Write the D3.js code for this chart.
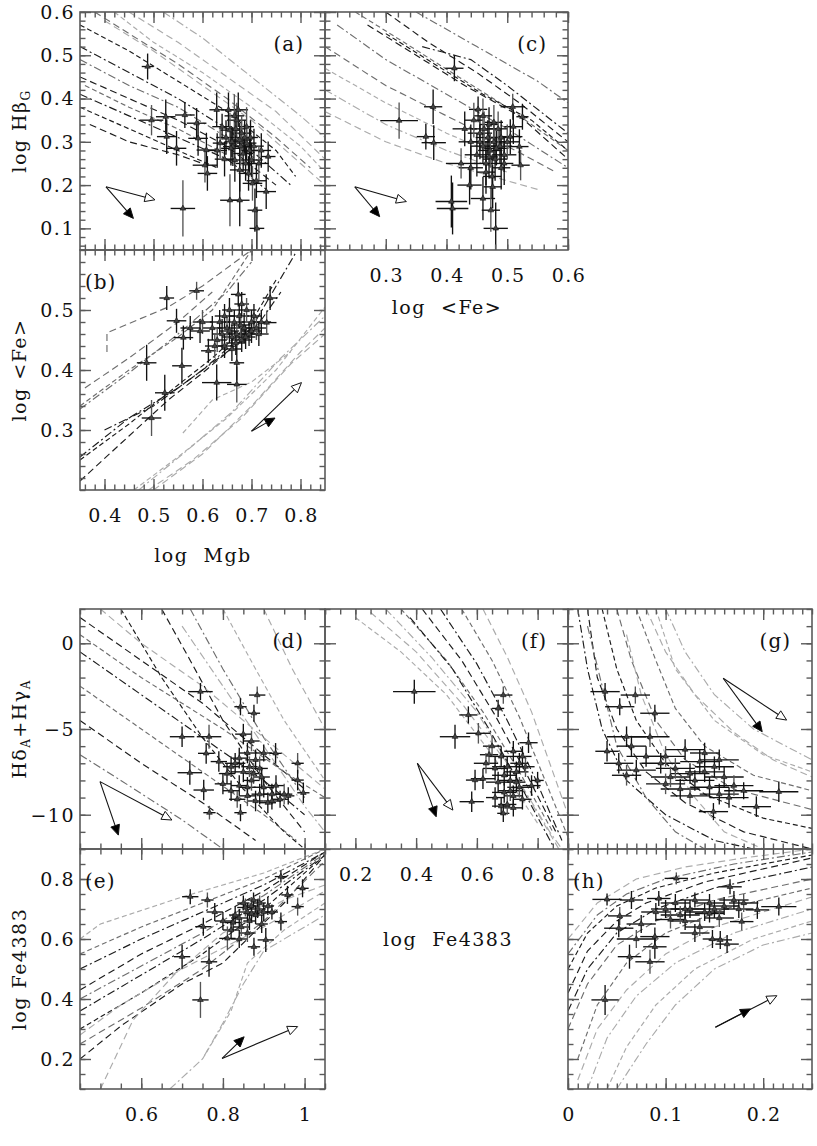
<!DOCTYPE html>
<html><head><meta charset="utf-8">
<script src="https://cdn.jsdelivr.net/npm/d3@7"></script>
<style>
body{margin:0;background:#fff}
text{font-family:"DejaVu Serif","Liberation Serif",serif;fill:#111}
</style>
</head><body>
<svg id="fig" width="817" height="1146"></svg>
<script>
// ---------------- tick values ----------------
const ticksMgb = [0.4,0.5,0.6,0.7,0.8];
const ticksFe = [0.2,0.3,0.4,0.5,0.6];
const labelsFe = [0.3,0.4,0.5,0.6];
const ticksHb = [0.1,0.2,0.3,0.4,0.5,0.6];
const ticksFeB = [0.3,0.4,0.5];
const ticksHdg = [-10,-5,0];
const ticksXd = [0.6,0.8,1.0];
const ticksFe4383 = [0.2,0.4,0.6,0.8];
const ticksXg = [0,0.1,0.2];

// ---------------- galaxies [x, y, ex, ey] ----------------
const ptsA = [[0.488,0.474,0.012,0.03],[0.496,0.350,0.024,0.035],[0.525,0.358,0.02,0.04],[0.527,0.312,0.02,0.04],[0.547,0.285,0.02,0.04],[0.560,0.146,0.025,0.065],[0.564,0.362,0.02,0.03],[0.588,0.343,0.02,0.035],[0.591,0.308,0.02,0.04],[0.605,0.246,0.025,0.04],[0.608,0.281,0.02,0.04],[0.610,0.227,0.02,0.04],[0.629,0.374,0.015,0.04],[0.636,0.297,0.015,0.035],[0.640,0.335,0.02,0.03],[0.645,0.26,0.02,0.04],[0.653,0.374,0.015,0.04],[0.656,0.327,0.02,0.04],[0.660,0.30,0.015,0.035],[0.662,0.289,0.02,0.045],[0.666,0.258,0.015,0.05],[0.670,0.35,0.02,0.04],[0.673,0.374,0.02,0.04],[0.676,0.304,0.025,0.04],[0.676,0.235,0.02,0.05],[0.680,0.32,0.02,0.04],[0.683,0.273,0.02,0.04],[0.686,0.31,0.02,0.04],[0.690,0.297,0.02,0.04],[0.690,0.335,0.015,0.045],[0.694,0.227,0.02,0.04],[0.696,0.28,0.02,0.05],[0.700,0.258,0.02,0.04],[0.702,0.204,0.02,0.04],[0.707,0.142,0.015,0.05],[0.711,0.100,0.015,0.05],[0.676,0.165,0.02,0.06],[0.656,0.165,0.02,0.06],[0.734,0.266,0.015,0.035],[0.730,0.185,0.02,0.04],[0.71,0.21,0.02,0.04],[0.665,0.36,0.02,0.05],[0.648,0.31,0.02,0.04],[0.658,0.285,0.02,0.04],[0.668,0.33,0.02,0.04],[0.678,0.29,0.02,0.045],[0.688,0.25,0.02,0.04],[0.698,0.31,0.015,0.04],[0.705,0.29,0.02,0.04],[0.715,0.25,0.02,0.04],[0.72,0.28,0.02,0.04],[0.63,0.28,0.02,0.04]];
const ptsC = [[0.413,0.470,0.015,0.03],[0.322,0.349,0.031,0.042],[0.378,0.381,0.015,0.04],[0.366,0.312,0.015,0.03],[0.379,0.298,0.02,0.04],[0.424,0.250,0.025,0.035],[0.438,0.200,0.02,0.045],[0.408,0.162,0.026,0.06],[0.410,0.146,0.026,0.06],[0.473,0.142,0.015,0.05],[0.481,0.100,0.02,0.06],[0.460,0.169,0.02,0.05],[0.476,0.196,0.015,0.05],[0.509,0.381,0.02,0.03],[0.525,0.358,0.01,0.03],[0.505,0.312,0.02,0.04],[0.520,0.289,0.015,0.04],[0.522,0.246,0.015,0.035],[0.510,0.335,0.015,0.04],[0.43,0.33,0.02,0.04],[0.44,0.30,0.02,0.04],[0.445,0.35,0.015,0.04],[0.45,0.27,0.02,0.05],[0.455,0.32,0.02,0.04],[0.46,0.29,0.02,0.04],[0.46,0.36,0.015,0.04],[0.465,0.25,0.02,0.05],[0.468,0.31,0.02,0.04],[0.47,0.34,0.015,0.04],[0.472,0.28,0.02,0.04],[0.475,0.22,0.015,0.05],[0.478,0.30,0.02,0.04],[0.48,0.26,0.02,0.05],[0.485,0.33,0.015,0.04],[0.488,0.29,0.02,0.04],[0.49,0.24,0.015,0.05],[0.495,0.27,0.02,0.04],[0.50,0.30,0.02,0.04],[0.44,0.24,0.02,0.05],[0.452,0.375,0.015,0.03],[0.455,0.30,0.02,0.04],[0.462,0.33,0.02,0.04],[0.47,0.265,0.015,0.05],[0.482,0.285,0.02,0.04],[0.49,0.31,0.02,0.04],[0.478,0.345,0.015,0.04],[0.495,0.25,0.015,0.05],[0.465,0.23,0.015,0.05]];
const ptsB = [[0.527,0.520,0.015,0.02],[0.588,0.532,0.015,0.015],[0.547,0.482,0.02,0.02],[0.561,0.454,0.02,0.02],[0.486,0.412,0.02,0.03],[0.496,0.320,0.02,0.03],[0.523,0.362,0.02,0.03],[0.558,0.407,0.02,0.03],[0.629,0.379,0.03,0.03],[0.670,0.376,0.02,0.03],[0.670,0.412,0.015,0.03],[0.673,0.526,0.015,0.02],[0.738,0.520,0.015,0.02],[0.731,0.479,0.02,0.02],[0.595,0.465,0.02,0.02],[0.612,0.432,0.015,0.02],[0.62,0.47,0.02,0.02],[0.63,0.45,0.02,0.02],[0.635,0.48,0.02,0.02],[0.64,0.46,0.02,0.025],[0.645,0.44,0.02,0.02],[0.65,0.47,0.02,0.02],[0.655,0.50,0.015,0.02],[0.66,0.455,0.02,0.02],[0.665,0.48,0.02,0.02],[0.67,0.46,0.02,0.02],[0.675,0.49,0.02,0.02],[0.68,0.45,0.02,0.02],[0.685,0.47,0.015,0.025],[0.69,0.50,0.02,0.02],[0.695,0.46,0.02,0.02],[0.70,0.48,0.02,0.02],[0.705,0.49,0.015,0.02],[0.71,0.47,0.02,0.02],[0.715,0.46,0.02,0.02],[0.66,0.435,0.02,0.02],[0.575,0.47,0.02,0.02],[0.60,0.48,0.02,0.02],[0.645,0.49,0.02,0.02],[0.655,0.465,0.02,0.02],[0.668,0.445,0.02,0.02],[0.678,0.475,0.02,0.02],[0.688,0.455,0.02,0.02],[0.70,0.465,0.02,0.02],[0.72,0.48,0.02,0.02],[0.625,0.44,0.02,0.02],[0.68,0.51,0.015,0.02]];
const ptsD = [[0.745,-2.82,0.03,0.5],[0.884,-3.02,0.02,0.5],[0.843,-3.70,0.015,0.5],[0.876,-4.08,0.015,0.5],[0.700,-5.45,0.03,0.6],[0.766,-5.45,0.03,0.7],[0.759,-6.42,0.02,0.6],[0.719,-7.55,0.03,0.7],[0.753,-8.56,0.025,0.6],[0.767,-9.88,0.015,0.4],[0.843,-9.88,0.015,0.5],[0.790,-6.90,0.02,0.6],[0.929,-6.42,0.015,0.6],[0.983,-7.00,0.015,0.6],[0.983,-7.98,0.015,0.6],[0.997,-8.72,0.015,0.6],[0.85,-5.3,0.02,0.6],[0.87,-5.7,0.02,0.6],[0.86,-6.4,0.02,0.6],[0.88,-6.8,0.025,0.6],[0.83,-7.0,0.025,0.6],[0.89,-7.3,0.02,0.7],[0.85,-7.5,0.03,0.6],[0.81,-7.6,0.02,0.6],[0.80,-8.2,0.02,0.6],[0.87,-8.0,0.02,0.6],[0.90,-8.4,0.025,0.6],[0.84,-8.3,0.02,0.6],[0.92,-8.8,0.02,0.6],[0.95,-8.8,0.02,0.6],[0.94,-9.1,0.02,0.5],[0.91,-9.3,0.02,0.6],[0.88,-9.2,0.02,0.6],[0.86,-8.9,0.02,0.6],[0.82,-8.6,0.02,0.6],[0.93,-8.3,0.02,0.6],[0.96,-8.9,0.015,0.5],[0.875,-7.6,0.02,0.6],[0.90,-6.4,0.02,0.5],[0.82,-7.2,0.02,0.6],[0.84,-6.7,0.02,0.6],[0.865,-7.2,0.02,0.6],[0.895,-7.8,0.02,0.6],[0.86,-8.4,0.02,0.6],[0.89,-8.8,0.02,0.6],[0.835,-9.1,0.02,0.5],[0.92,-9.2,0.02,0.5]];
const ptsF = [[0.394,-2.82,0.07,0.7],[0.687,-3.02,0.03,0.5],[0.670,-3.80,0.02,0.5],[0.572,-4.18,0.03,0.5],[0.528,-5.45,0.05,0.7],[0.605,-5.25,0.04,0.6],[0.583,-9.24,0.04,0.6],[0.594,-7.98,0.03,0.6],[0.687,-9.92,0.02,0.5],[0.65,-6.0,0.03,0.6],[0.68,-6.6,0.04,0.6],[0.72,-6.3,0.03,0.6],[0.75,-6.6,0.03,0.6],[0.63,-7.0,0.04,0.6],[0.66,-7.3,0.04,0.7],[0.70,-7.2,0.05,0.6],[0.73,-7.5,0.04,0.6],[0.76,-7.2,0.03,0.6],[0.62,-7.9,0.04,0.6],[0.67,-8.1,0.04,0.6],[0.71,-8.0,0.04,0.6],[0.74,-8.4,0.04,0.6],[0.78,-8.3,0.03,0.6],[0.69,-8.7,0.04,0.6],[0.72,-8.9,0.03,0.6],[0.70,-9.4,0.03,0.6],[0.75,-9.1,0.03,0.6],[0.66,-9.0,0.03,0.6],[0.80,-8.0,0.02,0.5],[0.64,-6.5,0.03,0.6],[0.77,-5.8,0.03,0.6],[0.69,-7.7,0.04,0.6],[0.73,-8.1,0.03,0.6],[0.71,-8.6,0.04,0.6],[0.74,-7.0,0.03,0.6],[0.68,-9.5,0.03,0.5],[0.72,-9.6,0.03,0.5]];
const ptsG = [[0.038,-2.82,0.015,0.5],[0.069,-3.02,0.015,0.5],[0.053,-3.70,0.015,0.5],[0.089,-4.08,0.015,0.5],[0.060,-5.45,0.02,0.6],[0.084,-5.45,0.02,0.6],[0.040,-6.30,0.012,0.6],[0.052,-7.00,0.015,0.6],[0.07,-7.4,0.02,0.6],[0.06,-7.7,0.015,0.6],[0.216,-8.66,0.02,0.6],[0.193,-9.53,0.015,0.6],[0.149,-9.82,0.015,0.5],[0.10,-6.6,0.02,0.6],[0.12,-6.2,0.02,0.6],[0.135,-6.9,0.02,0.7],[0.14,-6.4,0.015,0.6],[0.11,-7.3,0.02,0.6],[0.125,-7.6,0.02,0.6],[0.15,-7.2,0.02,0.6],[0.16,-7.8,0.02,0.6],[0.10,-8.2,0.02,0.6],[0.115,-8.5,0.02,0.6],[0.13,-8.0,0.02,0.6],[0.145,-8.4,0.02,0.6],[0.17,-8.3,0.02,0.6],[0.18,-8.6,0.02,0.5],[0.165,-9.0,0.02,0.6],[0.155,-8.8,0.02,0.6],[0.125,-8.9,0.02,0.5],[0.095,-7.0,0.02,0.6],[0.08,-6.6,0.02,0.6],[0.065,-6.0,0.015,0.6],[0.105,-7.8,0.02,0.6],[0.14,-7.5,0.02,0.6],[0.155,-6.8,0.02,0.6]];
const ptsE = [[0.720,0.741,0.02,0.025],[0.762,0.730,0.015,0.025],[0.752,0.641,0.02,0.03],[0.700,0.541,0.02,0.04],[0.766,0.524,0.02,0.05],[0.745,0.397,0.02,0.06],[0.942,0.808,0.015,0.02],[0.995,0.769,0.015,0.03],[0.958,0.747,0.015,0.03],[0.983,0.708,0.015,0.03],[0.942,0.658,0.015,0.03],[0.905,0.597,0.02,0.04],[0.876,0.574,0.015,0.03],[0.811,0.602,0.02,0.04],[0.80,0.66,0.02,0.03],[0.82,0.63,0.02,0.03],[0.83,0.68,0.015,0.03],[0.845,0.64,0.02,0.03],[0.85,0.72,0.015,0.025],[0.86,0.69,0.02,0.03],[0.865,0.66,0.015,0.03],[0.87,0.71,0.02,0.03],[0.875,0.73,0.015,0.025],[0.88,0.68,0.02,0.03],[0.885,0.70,0.02,0.03],[0.89,0.72,0.015,0.025],[0.90,0.69,0.02,0.03],[0.91,0.71,0.015,0.03],[0.92,0.69,0.015,0.025],[0.86,0.62,0.02,0.03],[0.84,0.60,0.02,0.03],[0.895,0.65,0.015,0.03],[0.78,0.69,0.02,0.03],[0.855,0.705,0.02,0.03],[0.87,0.685,0.02,0.03],[0.84,0.67,0.02,0.03],[0.825,0.655,0.02,0.03]];
const ptsH = [[0.040,0.732,0.015,0.02],[0.053,0.677,0.012,0.03],[0.052,0.636,0.015,0.03],[0.063,0.541,0.012,0.04],[0.038,0.397,0.014,0.05],[0.084,0.524,0.015,0.04],[0.089,0.608,0.015,0.03],[0.089,0.574,0.012,0.04],[0.093,0.735,0.012,0.025],[0.111,0.802,0.012,0.02],[0.166,0.774,0.012,0.025],[0.216,0.708,0.018,0.03],[0.194,0.697,0.012,0.03],[0.178,0.658,0.012,0.03],[0.163,0.583,0.012,0.03],[0.156,0.597,0.012,0.03],[0.148,0.60,0.01,0.03],[0.07,0.60,0.02,0.03],[0.065,0.73,0.012,0.03],[0.10,0.70,0.015,0.03],[0.11,0.72,0.015,0.03],[0.115,0.68,0.02,0.03],[0.12,0.66,0.015,0.03],[0.125,0.70,0.015,0.03],[0.13,0.73,0.015,0.025],[0.135,0.64,0.015,0.03],[0.14,0.69,0.02,0.03],[0.145,0.72,0.015,0.03],[0.15,0.70,0.015,0.03],[0.155,0.67,0.015,0.03],[0.16,0.71,0.015,0.03],[0.17,0.73,0.015,0.03],[0.175,0.70,0.015,0.03],[0.18,0.72,0.015,0.03],[0.13,0.62,0.015,0.03],[0.09,0.69,0.015,0.03],[0.075,0.65,0.015,0.03],[0.105,0.665,0.015,0.03],[0.12,0.70,0.015,0.03],[0.145,0.685,0.015,0.03]];

// ---------------- model tracks: fam 0 / 1 / 2 (three model sets) ----------------
const modA = [
 {fam:0,pts:[[0.35,0.45],[0.45,0.40],[0.55,0.35],[0.65,0.29],[0.75,0.20]]},
 {fam:0,pts:[[0.35,0.41],[0.45,0.36],[0.55,0.31],[0.65,0.26],[0.73,0.19]]},
 {fam:0,pts:[[0.35,0.38],[0.45,0.33],[0.55,0.28],[0.63,0.24]]},
 {fam:0,pts:[[0.37,0.34],[0.45,0.30],[0.55,0.27],[0.60,0.25]]},
 {fam:0,pts:[[0.35,0.52],[0.45,0.46],[0.55,0.40],[0.65,0.33],[0.72,0.26],[0.78,0.20]]},
 {fam:0,pts:[[0.35,0.57],[0.45,0.51],[0.55,0.44],[0.65,0.37],[0.75,0.28],[0.79,0.22]]},
 {fam:1,pts:[[0.38,0.60],[0.45,0.55],[0.55,0.48],[0.65,0.40],[0.75,0.31],[0.82,0.24]]},
 {fam:1,pts:[[0.35,0.49],[0.45,0.43],[0.55,0.38],[0.65,0.31],[0.72,0.25]]},
 {fam:1,pts:[[0.36,0.43],[0.45,0.38],[0.55,0.33],[0.65,0.27]]},
 {fam:2,pts:[[0.45,0.60],[0.55,0.53],[0.65,0.45],[0.75,0.37],[0.85,0.26]]},
 {fam:2,pts:[[0.52,0.60],[0.60,0.54],[0.70,0.45],[0.80,0.36],[0.85,0.31]]},
 {fam:2,pts:[[0.42,0.60],[0.50,0.53],[0.60,0.46],[0.70,0.38],[0.80,0.29],[0.85,0.23]]},
 {fam:2,pts:[[0.40,0.58],[0.50,0.51],[0.60,0.43],[0.70,0.35],[0.80,0.25],[0.85,0.20]]}
];
const modC = [
 {fam:2,pts:[[0.2,0.37],[0.3,0.30],[0.4,0.25],[0.5,0.21],[0.55,0.19]]},
 {fam:2,pts:[[0.2,0.42],[0.3,0.34],[0.4,0.28],[0.5,0.23]]},
 {fam:2,pts:[[0.2,0.47],[0.3,0.39],[0.4,0.32],[0.5,0.26]]},
 {fam:1,pts:[[0.2,0.52],[0.3,0.43],[0.4,0.36],[0.5,0.29],[0.58,0.23]]},
 {fam:1,pts:[[0.22,0.57],[0.3,0.49],[0.4,0.41],[0.5,0.33],[0.6,0.24]]},
 {fam:1,pts:[[0.25,0.60],[0.33,0.53],[0.42,0.45],[0.5,0.38],[0.6,0.28]]},
 {fam:0,pts:[[0.30,0.60],[0.37,0.53],[0.45,0.46],[0.52,0.39],[0.6,0.30]]},
 {fam:0,pts:[[0.36,0.52],[0.44,0.49],[0.5,0.43],[0.6,0.32]]},
 {fam:0,pts:[[0.30,0.55],[0.38,0.48],[0.46,0.41],[0.54,0.35],[0.6,0.28]]},
 {fam:0,pts:[[0.27,0.57],[0.35,0.50],[0.43,0.43],[0.52,0.36],[0.6,0.26]]},
 {fam:1,pts:[[0.35,0.60],[0.45,0.52],[0.55,0.44],[0.6,0.39]]}
];
const modB = [
 {fam:1,pts:[[0.405,0.43],[0.405,0.462],[0.53,0.505],[0.6,0.54],[0.7,0.6]]},
 {fam:1,pts:[[0.35,0.335],[0.45,0.395],[0.55,0.46],[0.65,0.53],[0.7,0.58]]},
 {fam:1,pts:[[0.35,0.34],[0.45,0.40],[0.55,0.455],[0.62,0.5],[0.7,0.6]]},
 {fam:1,pts:[[0.36,0.37],[0.45,0.42],[0.55,0.48],[0.62,0.53]]},
 {fam:0,pts:[[0.35,0.255],[0.45,0.32],[0.55,0.37],[0.6,0.40],[0.7,0.47],[0.79,0.595]]},
 {fam:0,pts:[[0.35,0.25],[0.45,0.31],[0.55,0.375],[0.62,0.42],[0.7,0.48],[0.75,0.55]]},
 {fam:0,pts:[[0.35,0.215],[0.45,0.29],[0.53,0.35],[0.6,0.395],[0.68,0.45]]},
 {fam:0,pts:[[0.40,0.30],[0.5,0.34],[0.6,0.40],[0.7,0.46],[0.76,0.53]]},
 {fam:2,pts:[[0.46,0.2],[0.55,0.255],[0.65,0.32],[0.75,0.40],[0.85,0.505]]},
 {fam:2,pts:[[0.49,0.2],[0.58,0.25],[0.68,0.32],[0.78,0.41],[0.85,0.46]]},
 {fam:2,pts:[[0.47,0.2],[0.56,0.26],[0.66,0.33],[0.76,0.42],[0.85,0.49]]},
 {fam:2,pts:[[0.56,0.295],[0.62,0.35],[0.7,0.38],[0.78,0.43]]},
 {fam:2,pts:[[0.50,0.2],[0.6,0.26],[0.7,0.34],[0.8,0.43],[0.85,0.47]]}
];
const modD = [
 {fam:0,pts:[[0.45,1.5],[0.6,-1],[0.75,-3.5],[0.9,-6.5],[1.0,-8.5]]},
 {fam:0,pts:[[0.45,-0.5],[0.6,-3],[0.75,-5.5],[0.9,-8],[1.0,-10]]},
 {fam:1,pts:[[0.45,-2.5],[0.6,-5],[0.75,-7.5],[0.9,-10],[0.98,-11.5]]},
 {fam:0,pts:[[0.45,-4.5],[0.6,-7],[0.75,-9.3],[0.88,-11.5]]},
 {fam:1,pts:[[0.45,-6.5],[0.55,-8],[0.7,-10.3],[0.8,-12]]},
 {fam:0,pts:[[0.55,2],[0.65,-2],[0.75,-5.5],[0.85,-8.5],[0.95,-11],[1.0,-12]]},
 {fam:0,pts:[[0.65,2],[0.72,-1],[0.8,-4.5],[0.9,-8],[1.0,-11]]},
 {fam:1,pts:[[0.72,2],[0.8,-1.5],[0.9,-5.5],[1.0,-9]]},
 {fam:2,pts:[[0.8,2],[0.88,-1.5],[0.95,-4.5],[1.05,-8]]},
 {fam:2,pts:[[0.9,2],[0.97,-1.5],[1.05,-5]]},
 {fam:2,pts:[[0.7,1],[0.8,-2.5],[0.9,-6],[1.0,-9.5],[1.05,-11]]},
 {fam:1,pts:[[0.45,0.5],[0.6,-2],[0.8,-5],[0.95,-7.5],[1.05,-9]]},
 {fam:2,pts:[[0.5,2],[0.6,0],[0.75,-2.5],[0.9,-5.5],[1.05,-8.5]]}
];
const modF = [
 {fam:2,pts:[[0.25,1.8],[0.4,-0.5],[0.55,-3.5],[0.7,-7],[0.82,-10.5],[0.87,-12]]},
 {fam:2,pts:[[0.30,2],[0.45,-0.8],[0.6,-4],[0.72,-7.5],[0.84,-11],[0.88,-12]]},
 {fam:1,pts:[[0.35,2],[0.5,-1],[0.62,-4],[0.74,-7.5],[0.85,-11]]},
 {fam:0,pts:[[0.42,2],[0.55,-1],[0.66,-4.2],[0.76,-7.5],[0.86,-11]]},
 {fam:0,pts:[[0.48,2],[0.6,-1.2],[0.7,-4.5],[0.79,-7.8],[0.88,-11.5]]},
 {fam:1,pts:[[0.55,2],[0.65,-1],[0.74,-4.3],[0.82,-7.8],[0.9,-11.3]]},
 {fam:2,pts:[[0.62,2],[0.7,-0.8],[0.78,-4],[0.85,-7.5],[0.9,-10]]},
 {fam:0,pts:[[0.38,1.5],[0.52,-1.5],[0.64,-5],[0.75,-8.5],[0.85,-11.8]]},
 {fam:2,pts:[[0.20,1.5],[0.35,-0.5],[0.5,-3],[0.65,-6.5],[0.8,-10.5]]}
];
const modG = [
 {fam:0,pts:[[0.02,2],[0.03,-2],[0.05,-5],[0.08,-7.5],[0.12,-9.3],[0.18,-11],[0.25,-12]]},
 {fam:0,pts:[[0.01,2],[0.02,-1.5],[0.035,-5],[0.06,-8],[0.1,-10],[0.15,-11.5],[0.19,-12]]},
 {fam:0,pts:[[0.035,2],[0.05,-1.5],[0.07,-4.5],[0.1,-7],[0.14,-8.8],[0.2,-10.2],[0.25,-10.8]]},
 {fam:1,pts:[[0.05,2],[0.065,-1],[0.09,-4.5],[0.12,-6.8],[0.17,-8.5],[0.25,-9.7]]},
 {fam:1,pts:[[0.02,1],[0.035,-2.5],[0.05,-6],[0.08,-9],[0.11,-11],[0.14,-12]]},
 {fam:1,pts:[[0.07,2],[0.09,-1],[0.11,-3.8],[0.14,-6],[0.19,-7.7],[0.25,-8.6]]},
 {fam:2,pts:[[0.08,2],[0.1,-0.5],[0.13,-3],[0.17,-5.2],[0.21,-6.8],[0.25,-7.8]]},
 {fam:2,pts:[[0.10,2],[0.12,-0.5],[0.15,-3],[0.19,-5],[0.25,-6.8]]},
 {fam:2,pts:[[0.09,2],[0.11,-1.5],[0.15,-4.5],[0.2,-6.5],[0.25,-7.5]]},
 {fam:2,pts:[[0.06,0.5],[0.075,-3],[0.1,-6.5],[0.13,-9],[0.16,-11],[0.2,-12]]}
];
const modE = [
 {fam:0,pts:[[0.45,0.43],[0.6,0.55],[0.75,0.65],[0.9,0.76],[1.05,0.89]]},
 {fam:0,pts:[[0.45,0.50],[0.6,0.60],[0.75,0.69],[0.9,0.78],[1.05,0.89]]},
 {fam:0,pts:[[0.45,0.30],[0.6,0.42],[0.75,0.55],[0.9,0.70],[1.05,0.88]]},
 {fam:0,pts:[[0.45,0.20],[0.55,0.31],[0.7,0.45],[0.8,0.52],[0.95,0.72],[1.05,0.88]]},
 {fam:0,pts:[[0.45,0.36],[0.6,0.48],[0.75,0.60],[0.9,0.73],[1.05,0.88]]},
 {fam:1,pts:[[0.45,0.55],[0.6,0.64],[0.75,0.72],[0.9,0.80],[1.05,0.90]]},
 {fam:1,pts:[[0.45,0.25],[0.6,0.37],[0.75,0.50],[0.9,0.66],[1.05,0.86]]},
 {fam:1,pts:[[0.45,0.40],[0.6,0.51],[0.75,0.62],[0.9,0.745],[1.05,0.885]]},
 {fam:2,pts:[[0.45,0.60],[0.5,0.65],[0.7,0.74],[0.9,0.82],[1.05,0.90]]},
 {fam:2,pts:[[0.50,0.10],[0.58,0.33],[0.68,0.48],[0.8,0.62],[0.95,0.73],[1.05,0.78]]},
 {fam:2,pts:[[0.67,0.10],[0.75,0.20],[0.8,0.32],[0.85,0.45],[0.9,0.56],[1.05,0.68]]},
 {fam:2,pts:[[0.75,0.20],[0.82,0.36],[0.86,0.52],[0.95,0.63],[1.05,0.72]]},
 {fam:2,pts:[[0.45,0.28],[0.55,0.38],[0.7,0.50],[0.9,0.64],[1.05,0.76]]}
];
const modH = [
 {fam:0,pts:[[0,0.42],[0.02,0.56],[0.05,0.66],[0.08,0.72],[0.14,0.79],[0.25,0.87]]},
 {fam:0,pts:[[0,0.36],[0.02,0.50],[0.05,0.62],[0.09,0.70],[0.15,0.77],[0.25,0.84]]},
 {fam:0,pts:[[0,0.50],[0.02,0.62],[0.05,0.71],[0.09,0.77],[0.15,0.82],[0.25,0.88]]},
 {fam:1,pts:[[0,0.30],[0.02,0.45],[0.05,0.58],[0.09,0.66],[0.15,0.73],[0.25,0.80]]},
 {fam:1,pts:[[0,0.55],[0.03,0.68],[0.06,0.75],[0.1,0.80],[0.17,0.85],[0.25,0.89]]},
 {fam:1,pts:[[0.01,0.20],[0.03,0.38],[0.06,0.52],[0.1,0.62],[0.16,0.70],[0.25,0.77]]},
 {fam:2,pts:[[0.01,0.13],[0.03,0.30],[0.06,0.43],[0.1,0.55],[0.15,0.64],[0.2,0.69],[0.25,0.74]]},
 {fam:2,pts:[[0.02,0.10],[0.04,0.27],[0.07,0.41],[0.11,0.52],[0.17,0.62],[0.25,0.70]]},
 {fam:2,pts:[[0.04,0.10],[0.06,0.24],[0.09,0.38],[0.13,0.50],[0.19,0.60],[0.25,0.66]]},
 {fam:2,pts:[[0,0.60],[0.03,0.72],[0.07,0.80],[0.12,0.84],[0.18,0.87],[0.25,0.90]]},
 {fam:2,pts:[[0.05,0.10],[0.08,0.25],[0.11,0.38],[0.15,0.50],[0.2,0.58],[0.25,0.62]]}
];

// ---------------- effect vectors: [x0,y0, xOpen,yOpen, xFilled,yFilled] ----------------
const arrA = [0.403,0.196, 0.503,0.166, 0.459,0.123];
const arrC = [0.249,0.196, 0.334,0.162, 0.290,0.127];
const arrB = [0.700,0.298, 0.802,0.379, 0.748,0.320];
const arrD = [0.499,-8.07, 0.675,-10.31, 0.544,-11.19];
const arrF = [0.404,-7.0, 0.521,-9.73, 0.466,-10.12];
const arrG = [0.159,-2.04, 0.224,-4.48, 0.199,-5.16];
const arrE = [0.798,0.202, 0.983,0.308, 0.852,0.274];
const arrH = [0.151,0.306, 0.214,0.411, 0.187,0.367];

// ---------------- layout ----------------
const famColor = ['#1c1c1c','#6e6e6e','#ababab'];
const dashes = ['7,4','8,3,2,3','5,3'];
const frameCol = '#5a5a5a';
const FS = 19;

const panels = [
 {lab:'(a)',lp:'r',x0:80,x1:325,y0:12,y1:250,xd:[0.35,0.85],yd:[0.05,0.6],xT:ticksMgb,xm:0.02,yT:ticksHb,ym:0.02,yL:ticksHb,xL:null,pts:ptsA,mod:modA,arr:arrA},
 {lab:'(c)',lp:'r',x0:325,x1:568,y0:12,y1:250,xd:[0.2,0.6],yd:[0.05,0.6],xT:ticksFe,xm:0.02,yT:ticksHb,ym:0.02,yL:null,xL:labelsFe,pts:ptsC,mod:modC,arr:arrC},
 {lab:'(b)',lp:'l',x0:80,x1:325,y0:250,y1:490,xd:[0.35,0.85],yd:[0.2,0.6],xT:ticksMgb,xm:0.02,yT:ticksFeB,ym:0.02,yL:ticksFeB,xL:ticksMgb,pts:ptsB,mod:modB,arr:arrB},
 {lab:'(d)',lp:'r',x0:80,x1:325,y0:609,y1:849,xd:[0.45,1.05],yd:[-12,2],xT:ticksXd,xm:0.05,yT:ticksHdg,ym:1,yL:ticksHdg,xL:null,pts:ptsD,mod:modD,arr:arrD},
 {lab:'(f)',lp:'r',x0:325,x1:568,y0:609,y1:849,xd:[0.1,0.9],yd:[-12,2],xT:ticksFe4383,xm:0.05,yT:ticksHdg,ym:1,yL:null,xL:ticksFe4383,pts:ptsF,mod:modF,arr:arrF},
 {lab:'(g)',lp:'r',x0:568,x1:812,y0:609,y1:849,xd:[0,0.25],yd:[-12,2],xT:ticksXg,xm:0.01,yT:ticksHdg,ym:1,yL:null,xL:null,pts:ptsG,mod:modG,arr:arrG},
 {lab:'(e)',lp:'l',x0:80,x1:325,y0:849,y1:1089,xd:[0.45,1.05],yd:[0.1,0.9],xT:ticksXd,xm:0.05,yT:ticksFe4383,ym:0.05,yL:ticksFe4383,xL:ticksXd,pts:ptsE,mod:modE,arr:arrE},
 {lab:'(h)',lp:'l',x0:568,x1:812,y0:849,y1:1089,xd:[0,0.25],yd:[0.1,0.9],xT:ticksXg,xm:0.01,yT:ticksFe4383,ym:0.05,yL:null,xL:ticksXg,pts:ptsH,mod:modH,arr:arrH}
];

const svg = d3.select('#fig');
const fmt = v => String(+v.toFixed(3)).replace('-', '\u2212');
const minorVals = (d, s) => d3.range(Math.ceil(d[0]/s - 1e-6), Math.floor(d[1]/s + 1e-6) + 1).map(k => +(k*s).toFixed(4));

panels.forEach((p, pi) => {
  const x = d3.scaleLinear().domain(p.xd).range([p.x0, p.x1]);
  const y = d3.scaleLinear().domain(p.yd).range([p.y1, p.y0]);
  const g = svg.append('g');
  const cid = 'clip' + pi;
  svg.append('clipPath').attr('id', cid).append('rect')
    .attr('x', p.x0).attr('y', p.y0).attr('width', p.x1 - p.x0).attr('height', p.y1 - p.y0);
  const inner = g.append('g').attr('clip-path', `url(#${cid})`);

  // model tracks
  const line = d3.line().x(d => x(d[0])).y(d => y(d[1]));
  inner.selectAll('path.m').data(p.mod).join('path')
    .attr('d', d => line(d.pts)).attr('fill', 'none')
    .attr('stroke', d => famColor[d.fam]).attr('stroke-width', 1.15)
    .attr('stroke-dasharray', (d, i) => dashes[i % 3]);

  // error bars
  const eg = inner.append('g').attr('stroke', '#111').attr('stroke-width', 1.35);
  eg.selectAll('line.h').data(p.pts).join('line')
    .attr('x1', d => x(d[0] - d[2])).attr('x2', d => x(d[0] + d[2]))
    .attr('y1', d => y(d[1])).attr('y2', d => y(d[1]));
  eg.selectAll('line.v').data(p.pts).join('line')
    .attr('stroke', (d, i) => i % 4 === 1 ? '#555' : '#111')
    .attr('x1', d => x(d[0])).attr('x2', d => x(d[0]))
    .attr('y1', d => y(d[1] - d[3])).attr('y2', d => y(d[1] + d[3]));
  inner.selectAll('path.s').data(p.pts).join('path')
    .attr('d', d3.symbol(d3.symbolTriangle, 14))
    .attr('transform', d => `translate(${x(d[0])},${y(d[1])})`)
    .attr('fill', '#444').attr('stroke', '#111').attr('stroke-width', 0.6);

  // effect vectors
  const a = p.arr;
  const ox = x(a[0]), oy = y(a[1]);
  [[a[2], a[3], '#fff'], [a[4], a[5], '#000']].forEach(([tx, ty, fill]) => {
    const px = x(tx), py = y(ty);
    const dx = px - ox, dy = py - oy, L = Math.hypot(dx, dy);
    const ux = dx / L, uy = dy / L, hl = 10, hw = 4.5;
    const bx = px - ux * hl, by = py - uy * hl;
    inner.append('line').attr('x1', ox).attr('y1', oy).attr('x2', bx).attr('y2', by)
      .attr('stroke', '#111').attr('stroke-width', 1.1);
    inner.append('path')
      .attr('d', `M${px},${py}L${bx - uy * hw},${by + ux * hw}L${bx + uy * hw},${by - ux * hw}Z`)
      .attr('fill', fill).attr('stroke', '#111').attr('stroke-width', 1);
  });

  // frame
  g.append('rect').attr('x', p.x0).attr('y', p.y0).attr('width', p.x1 - p.x0).attr('height', p.y1 - p.y0)
    .attr('fill', 'none').attr('stroke', frameCol).attr('stroke-width', 1.6);

  // inward ticks on all four sides (major + minor)
  const xMin = minorVals(p.xd, p.xm), yMin = minorVals(p.yd, p.ym);
  const sides = [
    [d3.axisTop(x), p.y1, 'x'], [d3.axisBottom(x), p.y0, 'x'],
    [d3.axisRight(y), p.x0, 'y'], [d3.axisLeft(y), p.x1, 'y']
  ];
  sides.forEach(([ax, pos, kind]) => {
    const tr = kind === 'x' ? `translate(0,${pos})` : `translate(${pos},0)`;
    [[kind === 'x' ? xMin : yMin, 5.5], [kind === 'x' ? p.xT : p.yT, 11]].forEach(([vals, len]) => {
      const gg = g.append('g').attr('transform', tr)
        .call(ax.tickValues(vals).tickSize(len).tickSizeOuter(0).tickFormat(''));
      gg.select('.domain').remove();
      gg.selectAll('line').attr('stroke', frameCol).attr('stroke-width', 1.4);
    });
  });

  // tick labels
  if (p.yL) {
    g.selectAll('text.yl').data(p.yL).join('text')
      .attr('x', p.x0 - 5).attr('y', d => y(d)).attr('dy', '0.36em')
      .attr('text-anchor', 'end').attr('font-size', FS).attr('letter-spacing', 1.5)
      .text(fmt);
  }
  if (p.xL) {
    const base = p.y1 + 32;
    g.selectAll('text.xl').data(p.xL).join('text')
      .attr('x', d => x(d) + 1).attr('y', base)
      .attr('text-anchor', 'middle').attr('font-size', FS).attr('letter-spacing', 1.5)
      .text(fmt);
  }
  // panel label
  g.append('text')
    .attr('x', p.lp === 'r' ? p.x1 - 21 : p.x0 + 5)
    .attr('y', p.y0 + 39)
    .attr('text-anchor', p.lp === 'r' ? 'end' : 'start')
    .attr('font-size', 20).attr('letter-spacing', 1)
    .text(p.lab);
});

// ---------------- axis titles ----------------
function vTitle(cx, cy, build) {
  const t = svg.append('text').attr('transform', `translate(${cx},${cy}) rotate(-90)`)
    .attr('text-anchor', 'middle').attr('font-size', FS).attr('letter-spacing', 1.5);
  build(t);
}
vTitle(26, 131, t => {
  t.append('tspan').text('log\u00a0H\u03b2');
  t.append('tspan').attr('font-size', 12).attr('dy', 4).text('G');
});
vTitle(26, 370, t => t.text('log\u00a0<Fe>'));
vTitle(26, 729, t => {
  t.append('tspan').text('H\u03b4');
  t.append('tspan').attr('font-size', 12).attr('dy', 4).text('A');
  t.append('tspan').attr('dy', -4).text('+H\u03b3');
  t.append('tspan').attr('font-size', 12).attr('dy', 4).text('A');
});
vTitle(26, 969, t => t.text('log\u00a0Fe4383'));

svg.append('text').attr('x', 447).attr('y', 314).attr('text-anchor', 'middle')
  .attr('font-size', FS).attr('letter-spacing', 1.5).text('log\u00a0\u00a0<Fe>');
svg.append('text').attr('x', 203).attr('y', 562).attr('text-anchor', 'middle')
  .attr('font-size', FS).attr('letter-spacing', 1.5).text('log\u00a0\u00a0Mgb');
svg.append('text').attr('x', 448).attr('y', 946).attr('text-anchor', 'middle')
  .attr('font-size', FS).attr('letter-spacing', 1.5).text('log\u00a0\u00a0Fe4383');
</script>
</body></html>
